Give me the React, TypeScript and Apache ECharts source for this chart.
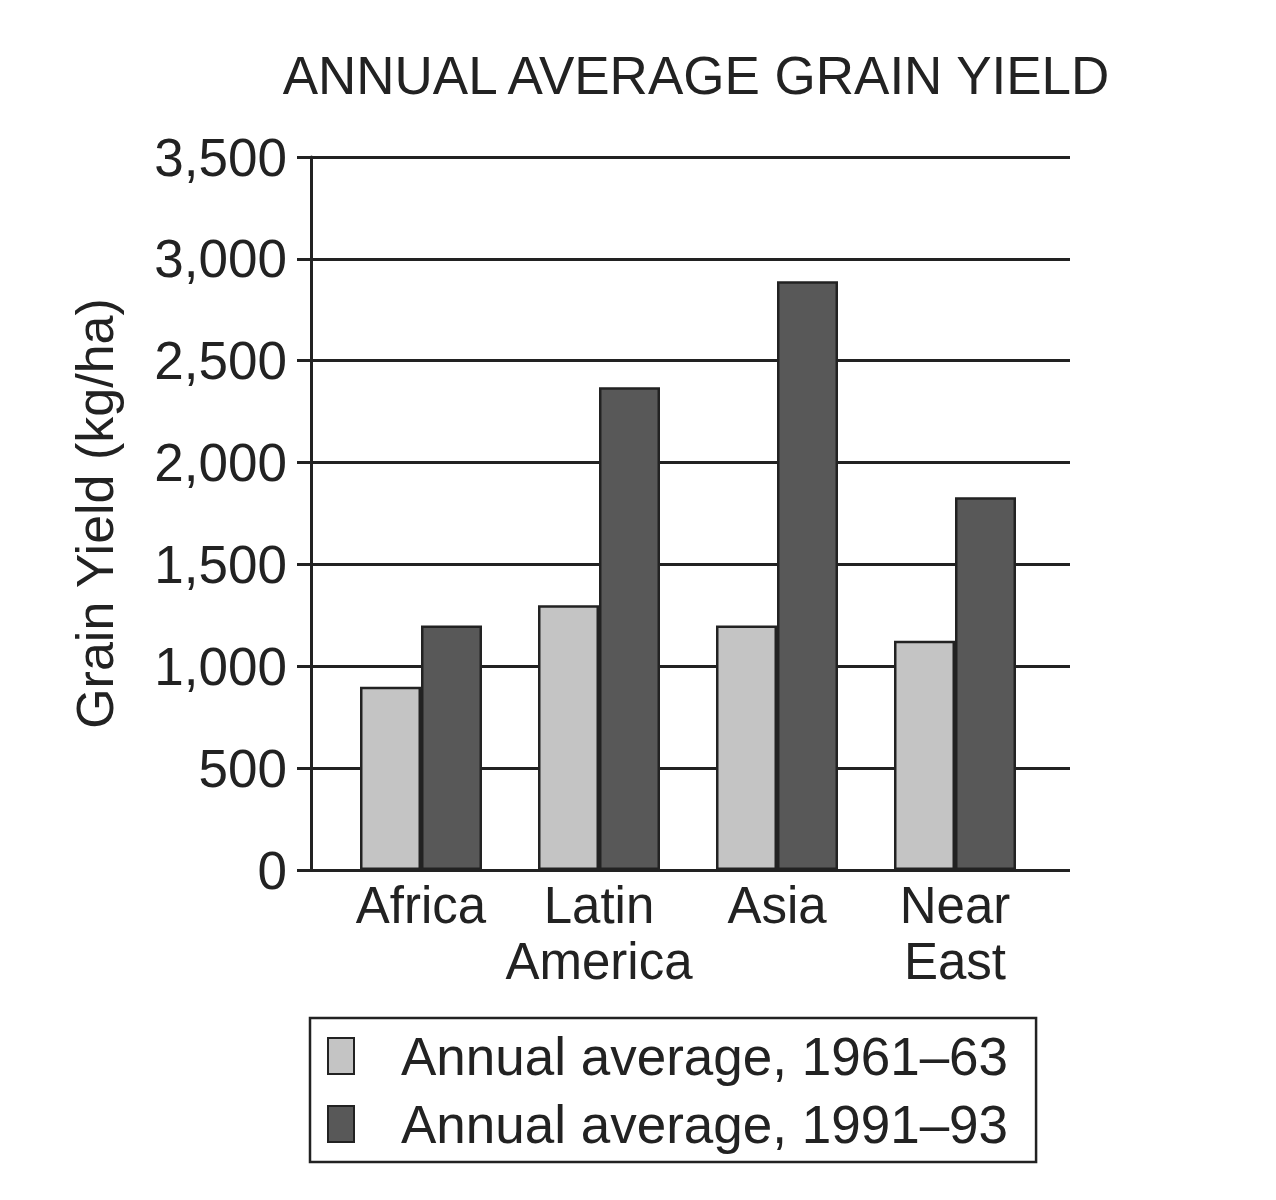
import React, { useEffect, useRef } from "react";
import * as echarts from "echarts";

const chartTitle = "ANNUAL AVERAGE GRAIN YIELD";
const categories = ["Africa", "Latin\nAmerica", "Asia", "Near\nEast"];
const seriesNames = ["Annual average, 1961–63", "Annual average, 1991–93"];
const yield1961 = [900, 1300, 1200, 1125];
const yield1991 = [1200, 2370, 2890, 1830];
const yMin = 0;
const yMax = 3500;
const yInterval = 500;
const yAxisName = "Grain Yield (kg/ha)";

const FONT = '"Liberation Sans", Arial, Helvetica, sans-serif';
const INK = "#222";

export default function App() {
  const ref = useRef<HTMLDivElement>(null);

  useEffect(() => {
    document.body.style.margin = "0";
    if (!ref.current) return;
    const chart = echarts.init(ref.current, undefined, { renderer: "svg" });
    const option: any = {
      animation: false,
      backgroundColor: "#fff",
      textStyle: { fontFamily: FONT },
      title: {
        text: chartTitle,
        left: 691,
        top: 44,
        textAlign: "center",
        textStyle: { fontSize: 53, fontWeight: "normal", color: INK, fontFamily: FONT },
      },
      grid: [
        { left: 311, top: 157, width: 759, height: 713 },
        { left: 332, top: 157, width: 712, height: 713 },
      ],
      xAxis: [
        { type: "value", gridIndex: 0, show: false, min: 0, max: 1 },
        {
          type: "category",
          gridIndex: 1,
          data: categories,
          axisLine: { show: false },
          axisTick: { show: false },
          splitLine: { show: false },
          axisLabel: {
            interval: 0,
            hideOverlap: false,
            fontSize: 51,
            lineHeight: 56,
            color: INK,
            margin: 7,
            fontFamily: FONT,
          },
        },
      ],
      yAxis: [
        {
          type: "value",
          gridIndex: 0,
          min: yMin,
          max: yMax,
          interval: yInterval,
          name: yAxisName,
          nameLocation: "middle",
          nameRotate: 90,
          nameGap: 190,
          nameTextStyle: { fontSize: 52, color: INK, fontFamily: FONT },
          axisLine: { show: true, lineStyle: { color: INK, width: 3 } },
          axisTick: { show: true, length: 14, lineStyle: { color: INK, width: 3 } },
          axisLabel: {
            fontSize: 53,
            color: INK,
            margin: 24,
            fontFamily: FONT,
            formatter: (v: number) => v.toLocaleString("en-US"),
          },
          splitLine: { show: true, lineStyle: { color: INK, width: 3 } },
        },
        { type: "value", gridIndex: 1, min: yMin, max: yMax, interval: yInterval, show: false, splitLine: { show: false } },
      ],
      legend: {
        orient: "vertical",
        left: 310,
        top: 1018,
        itemWidth: 26,
        itemHeight: 36,
        itemGap: 8,
        icon: "rect",
        borderColor: INK,
        borderWidth: 2.5,
        padding: [8, 28, 8, 17],
        textStyle: { fontSize: 53, color: INK, lineHeight: 60, padding: [0, 0, 0, 42], fontFamily: FONT },
        data: seriesNames,
      },
      series: [
        {
          type: "bar",
          name: seriesNames[0],
          xAxisIndex: 1,
          yAxisIndex: 1,
          data: yield1961,
          barWidth: 61,
          barGap: "0%",
          itemStyle: { color: "#c4c4c4", borderColor: INK, borderWidth: 2.5 },
        },
        {
          type: "bar",
          name: seriesNames[1],
          xAxisIndex: 1,
          yAxisIndex: 1,
          data: yield1991,
          barWidth: 61,
          barGap: "0%",
          itemStyle: { color: "#585858", borderColor: INK, borderWidth: 2.5 },
        },
      ],
    };
    chart.setOption(option);
    return () => chart.dispose();
  }, []);

  return <div ref={ref} style={{ width: 1276, height: 1200 }} />;
}
